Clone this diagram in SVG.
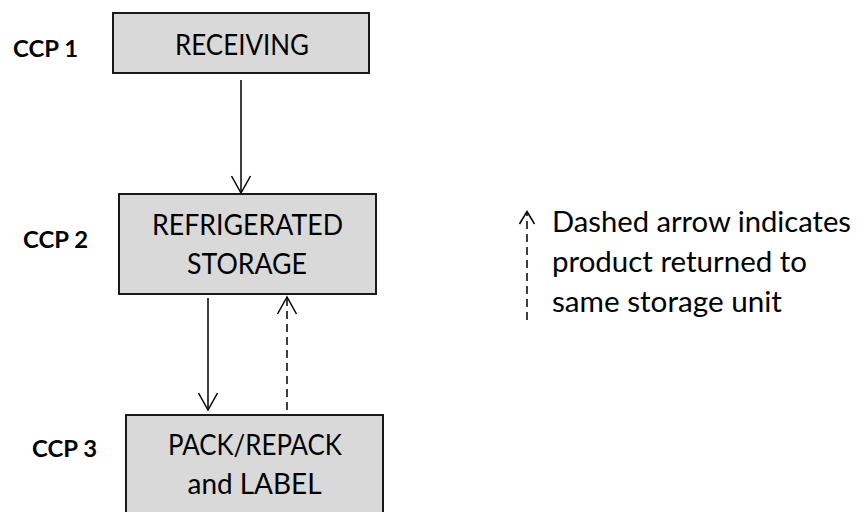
<svg xmlns="http://www.w3.org/2000/svg" width="862" height="512" viewBox="0 0 862 512">
  <style>
    .box { fill: #d9d9d9; stroke: #1a1a1a; stroke-width: 2; }
    .label { font-family: Lato, "Open Sans", "Liberation Sans", sans-serif; font-size: 29px; fill: #000; text-anchor: middle; }
    .ccp { font-family: Lato, "Open Sans", "Liberation Sans", sans-serif; font-size: 23px; font-weight: bold; fill: #000; }
    .note { font-family: Lato, "Open Sans", "Liberation Sans", sans-serif; font-size: 29px; fill: #000; }
    .flow { fill: none; stroke: #000; stroke-width: 1.5; }
    .dash { stroke-dasharray: 8 5; }
    .head { fill: none; stroke: #000; stroke-width: 1.5; stroke-linejoin: miter; }
  </style>

  <rect width="862" height="512" fill="#ffffff"/>

  <!-- step labels -->
  <text class="ccp" x="13" y="56.5" textLength="65" lengthAdjust="spacingAndGlyphs">CCP 1</text>
  <text class="ccp" x="23" y="248" textLength="65" lengthAdjust="spacingAndGlyphs">CCP 2</text>
  <text class="ccp" x="32" y="457" textLength="65" lengthAdjust="spacingAndGlyphs">CCP 3</text>

  <g id="receiving">
    <rect class="box" x="113" y="13" width="256" height="60"/>
    <text class="label" x="242" y="55" textLength="134" lengthAdjust="spacingAndGlyphs">RECEIVING</text>
  </g>

  <g id="refrigerated-storage">
    <rect class="box" x="119" y="194" width="257" height="100"/>
    <text class="label" x="247.5" y="235" textLength="191" lengthAdjust="spacingAndGlyphs">REFRIGERATED</text>
    <text class="label" x="247" y="274" textLength="120" lengthAdjust="spacingAndGlyphs">STORAGE</text>
  </g>

  <g id="pack-repack-label">
    <rect class="box" x="126" y="415" width="257" height="100"/>
    <text class="label" x="255" y="455" textLength="174" lengthAdjust="spacingAndGlyphs">PACK/REPACK</text>
    <text class="label" x="254.5" y="494" textLength="134" lengthAdjust="spacingAndGlyphs">and LABEL</text>
  </g>

  <g id="connectors">
    <!-- receiving -> storage -->
    <line class="flow" x1="241" y1="80" x2="241" y2="193"/>
    <polyline class="head" points="231.5,176 241,193 250.5,176"/>
    <!-- storage -> pack -->
    <line class="flow" x1="208" y1="298" x2="208" y2="410"/>
    <polyline class="head" points="198.5,393 208,410 217.5,393"/>
    <!-- pack -> storage (return) -->
    <line class="flow dash" x1="287" y1="410" x2="287" y2="298"/>
    <polyline class="head" points="277.5,314 287,297 296.5,314"/>
  </g>

  <g id="legend">
    <line class="flow dash" x1="527" y1="320" x2="527" y2="213"/>
    <polyline class="head" points="519.5,224 527,211.5 534.5,224"/>
    <text class="note" x="552" y="231.5" textLength="299" lengthAdjust="spacingAndGlyphs">Dashed arrow indicates</text>
    <text class="note" x="552" y="271.5" textLength="255" lengthAdjust="spacingAndGlyphs">product returned to</text>
    <text class="note" x="552" y="311.5" textLength="230" lengthAdjust="spacingAndGlyphs">same storage unit</text>
  </g>
</svg>
